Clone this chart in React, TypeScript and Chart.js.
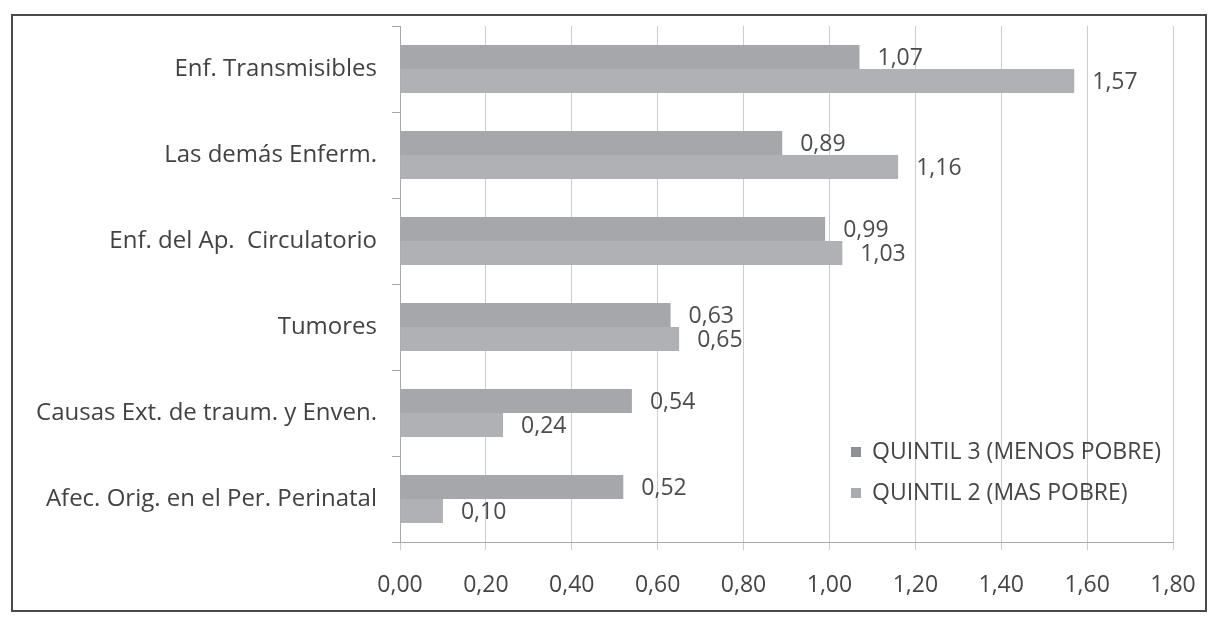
import React, { useEffect, useRef } from "react";
import { Chart, registerables } from "chart.js";

Chart.register(...registerables);

const categories = [
  "Enf. Transmisibles",
  "Las demás Enferm.",
  "Enf. del Ap.  Circulatorio",
  "Tumores",
  "Causas Ext. de traum. y Enven.",
  "Afec. Orig. en el Per. Perinatal",
];
const seriesNames = ["QUINTIL 3 (MENOS POBRE)", "QUINTIL 2 (MAS POBRE)"];
const quintil3 = [1.07, 0.89, 0.99, 0.63, 0.54, 0.52];
const quintil2 = [1.57, 1.16, 1.03, 0.65, 0.24, 0.1];
const xTicks = [0, 0.2, 0.4, 0.6, 0.8, 1.0, 1.2, 1.4, 1.6, 1.8];

const FONT = "'Open Sans', Lato, sans-serif";
const colors = ["#a6a7aa", "#b0b1b4"];
const legendColors = ["#909194", "#abacaf"];

const fmt = (v: number) => v.toFixed(2).replace(".", ",");

const labelPlugin = {
  id: "barLabels",
  afterDatasetsDraw(chart: any) {
    const ctx = chart.ctx;
    ctx.save();
    ctx.font = `23px ${FONT}`;
    ctx.fillStyle = "#4c4c4c";
    ctx.textAlign = "left";
    ctx.textBaseline = "middle";
    chart.data.datasets.forEach((ds: any, di: number) => {
      const meta = chart.getDatasetMeta(di);
      meta.data.forEach((el: any, i: number) => {
        ctx.fillText(fmt(ds.data[i]), el.x + 18, el.y + 1);
      });
    });
    ctx.restore();
  },
};

const legendPlugin = {
  id: "innerLegend",
  afterDraw(chart: any) {
    const ctx = chart.ctx;
    const a = chart.chartArea;
    ctx.save();
    ctx.font = `23px ${FONT}`;
    ctx.textBaseline = "middle";
    ctx.textAlign = "left";
    seriesNames.forEach((name, i) => {
      const y = a.top + 426 + i * 41;
      const x = a.left + 451;
      ctx.fillStyle = legendColors[i];
      ctx.fillRect(x, y - 5, 10, 10);
      ctx.fillStyle = "#454545";
      ctx.fillText(name, x + 21, y);
    });
    ctx.restore();
  },
};

export default function App() {
  const ref = useRef<HTMLCanvasElement>(null);
  useEffect(() => {
    document.body.style.margin = "0";
    const chart = new Chart(ref.current!, {
      type: "bar",
      data: {
        labels: categories,
        datasets: [
          {
            label: seriesNames[0],
            data: quintil3,
            backgroundColor: colors[0],
            categoryPercentage: 0.56,
            barPercentage: 1.0,
          },
          {
            label: seriesNames[1],
            data: quintil2,
            backgroundColor: colors[1],
            categoryPercentage: 0.56,
            barPercentage: 1.0,
          },
        ],
      },
      options: {
        indexAxis: "y",
        animation: false,
        responsive: false,
        layout: { padding: { top: 26, right: 39, left: 0, bottom: 0 } },
        plugins: { legend: { display: false }, tooltip: { enabled: false } },
        scales: {
          x: {
            min: 0,
            max: 1.8,
            afterBuildTicks: (s: any) => {
              s.ticks = xTicks.map((v) => ({ value: v }));
            },
            afterFit: (s: any) => {
              s.height = 619 - 542;
              s.paddingLeft = 0;
              s.paddingRight = 0;
            },
            grid: {
              color: "#cdcdcd",
              lineWidth: 1,
              tickLength: 8,
              drawTicks: true,
            },
            border: { display: true, color: "#a8a8a8", width: 1 },
            ticks: {
              callback: (v: any) => fmt(Number(v)),
              font: { family: FONT, size: 23 },
              color: "#454545",
              padding: 22,
              maxRotation: 0,
            },
          },
          y: {
            afterFit: (s: any) => {
              s.width = 400;
              s.paddingTop = 0;
              s.paddingBottom = 0;
            },
            grid: {
              drawOnChartArea: false,
              drawTicks: true,
              tickLength: 8,
              color: "#a8a8a8",
              offset: true,
            },
            border: { display: true, color: "#a8a8a8", width: 1 },
            ticks: {
              font: { family: FONT, size: 24 },
              color: "#424242",
              padding: 15,
            },
          },
        },
      },
      plugins: [labelPlugin, legendPlugin],
    } as any);
    return () => chart.destroy();
  }, []);
  return (
    <div style={{ position: "relative", width: 1212, height: 619, background: "#fff" }}>
      <div
        style={{
          position: "absolute",
          left: 11,
          top: 14,
          width: 1196,
          height: 598,
          border: "2px solid #4a4a4a",
          boxSizing: "border-box",
        }}
      />
      <canvas
        ref={ref}
        width={1212}
        height={619}
        style={{ position: "absolute", left: 0, top: 0, display: "block" }}
      />
    </div>
  );
}
